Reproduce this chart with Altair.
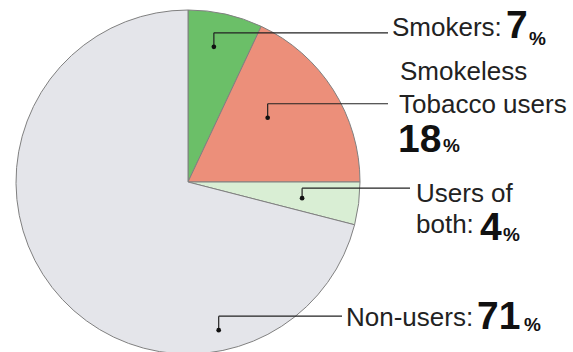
import altair as alt
import pandas as pd
import numpy as np

# ---- data ----
categories = ["Smokers", "Smokeless Tobacco users", "Users of both", "Non-users"]
shares = [7, 18, 4, 71]
colors = ["#6bbf68", "#ec8f7a", "#d9eed4", "#e4e5ea"]

# ---- layout (pixels) ----
W, H = 573, 352
CX, CY, R = 188, 182, 172
REG_FONT = "Liberation Sans"

df = pd.DataFrame({"category": categories, "share": shares, "idx": range(len(shares))})

# leader dot placement inside each slice: (position within slice, radius fraction)
dot_place = [(0.43, 0.80), (0.40, 0.595), (0.56, 0.67), (0.25, 0.88)]
elbow_rise = [14, 14, 10, 14]
line_end_x = [388, 388, 410, 342]

total = sum(shares)
start = np.concatenate([[0], np.cumsum(shares)[:-1]])
rows = []
for i, s in enumerate(shares):
    frac_in, rf = dot_place[i]
    ang = 2 * np.pi * (start[i] + s * frac_in) / total
    dx = rf * R * np.sin(ang)
    dy = -rf * R * np.cos(ang)
    rows.append({"category": categories[i], "x": dx, "y": dy,
                 "ye": dy - elbow_rise[i], "xe": line_end_x[i] - CX})
lead = pd.DataFrame(rows)

# label pieces: (leader index, text, x px, y offset from leader line, kind)
line_y = {i: CY + lead.loc[i, "ye"] for i in range(4)}
pieces = [
    (0, "Smokers:", 392, 3, "reg"),
    (0, "7", 506, 5, "big"),
    (0, "%", 529, 12, "pct"),
    (1, "Smokeless", 400, -24, "reg"),
    (1, "Tobacco users", 399, 9, "reg"),
    (1, "18", 398, 48, "big"),
    (1, "%", 443, 48, "pct"),
    (2, "Users of", 416, 14, "reg"),
    (2, "both:", 416, 45, "reg"),
    (2, "4", 480, 52, "big"),
    (2, "%", 503, 53, "pct"),
    (3, "Non-users:", 346, 10, "reg"),
    (3, "71", 477, 13, "big"),
    (3, "%", 524, 15, "pct"),
]
lab = pd.DataFrame([
    {"text": t, "x": px - CX, "y": (line_y[i] + off) - CY, "kind": k}
    for (i, t, px, off, k) in pieces
])

xs = alt.Scale(domain=[-CX, W - CX], nice=False, zero=False)
ys = alt.Scale(domain=[-CY, H - CY], nice=False, zero=False, reverse=True)

pie = alt.Chart(df).mark_arc(radius=R, stroke="#808080", strokeWidth=1).encode(
    theta=alt.Theta("share:Q", stack=True),
    color=alt.Color("category:N", scale=alt.Scale(domain=categories, range=colors), legend=None),
    order=alt.Order("idx:Q"),
    x=alt.value(CX),
    y=alt.value(CY),
)

vrule = alt.Chart(lead).mark_rule(color="#222222", strokeWidth=1.2).encode(
    x=alt.X("x:Q", scale=xs, axis=None),
    y=alt.Y("y:Q", scale=ys, axis=None),
    y2="ye:Q",
)
hrule = alt.Chart(lead).mark_rule(color="#222222", strokeWidth=1.2).encode(
    x=alt.X("x:Q", scale=xs, axis=None),
    x2="xe:Q",
    y=alt.Y("ye:Q", scale=ys, axis=None),
)
dots = alt.Chart(lead).mark_circle(color="#111111", size=22, opacity=1).encode(
    x=alt.X("x:Q", scale=xs, axis=None),
    y=alt.Y("y:Q", scale=ys, axis=None),
)

def text_layer(kind, size, weight, color):
    return alt.Chart(lab[lab["kind"] == kind]).mark_text(
        align="left", baseline="alphabetic", font=REG_FONT, fontSize=size,
        fontWeight=weight, color=color
    ).encode(
        x=alt.X("x:Q", scale=xs, axis=None),
        y=alt.Y("y:Q", scale=ys, axis=None),
        text="text:N",
    )

reg = text_layer("reg", 26, "normal", "#222222")
big = text_layer("big", 39, "bold", "#111111")
pct = text_layer("pct", 19, "bold", "#111111")

chart = alt.layer(pie, vrule, hrule, dots, reg, big, pct).properties(
    width=W, height=H, padding=0, autosize=alt.AutoSizeParams(type="none"),
    background="white",
).configure_view(stroke=None)

chart.save("out.html", embed_options={"renderer": "svg", "actions": False})
